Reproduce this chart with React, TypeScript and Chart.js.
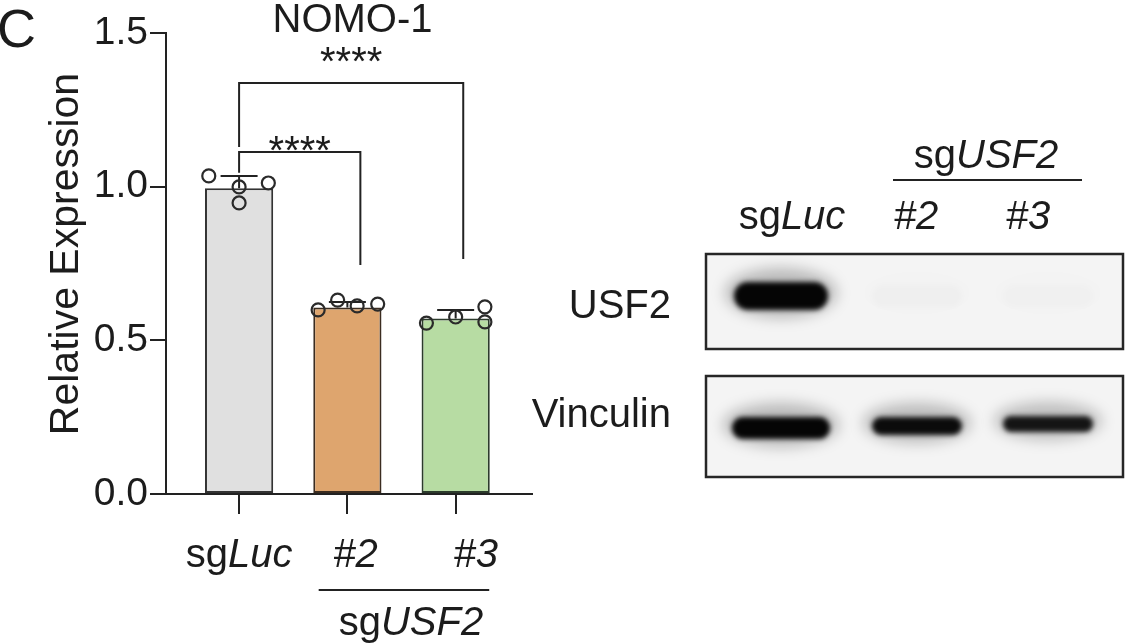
import React, { useEffect, useRef } from 'react';
import { Chart, registerables } from 'chart.js';

Chart.register(...registerables);

// ---------------- data ----------------
const categories = ['sgLuc', 'sgUSF2 #2', 'sgUSF2 #3'];
const categoryX = [0, 1, 2];
const meanValues = [0.995, 0.607, 0.571];
const sdValues = [0.04, 0.018, 0.028];
const repLuc = [1.035, 0.999, 0.947, 1.012];
const repUsf2n2 = [0.599, 0.631, 0.612, 0.618];
const repUsf2n3 = [0.556, 0.576, 0.609, 0.56];
const jitterLuc = [-0.28, 0, 0, 0.27];
const jitterUsf2n2 = [-0.27, -0.09, 0.09, 0.28];
const jitterUsf2n3 = [-0.27, 0, 0.27, 0.27];
const yTickValues = [0, 0.5, 1.0, 1.5];
const xLabelParts: [string, boolean][][] = [
  [['sg', false], ['Luc', true]],
  [['#2', true]],
  [['#3', true]],
];
const groupLabelParts: [string, boolean][] = [['sg', false], ['USF2', true]];
const chartTitle = 'NOMO-1';
const yAxisTitle = 'Relative Expression';
const panelLetter = 'C';

// significance comparisons (x in category units, y in data units)
const compX1 = [0, 0];
const compX2 = [1.12, 2.07];
const compY = [1.113, 1.337];
const compLeftEnd = [1.045, 1.129];
const compRightEnd = [0.745, 0.765];
const compStarTop = [1.168, 1.455];
const compLabels = ['****', '****'];

// western blot
const blotRows = ['USF2', 'Vinculin'];
const blotLaneLabels: [string, boolean][][] = [
  [['sg', false], ['Luc', true]],
  [['#2', true]],
  [['#3', true]],
];
const usf2Signal = [1, 0.015, 0.01];
const vinculinSignal = [1, 0.97, 0.92];

// ---------------- styles / layout ----------------
const FONT = '"Liberation Sans", Arial, Helvetica, sans-serif';
const INK = '#1c1c1c';
const LINE = '#222222';
const barFill = ['#e0e0e0', '#dea56e', '#b7dca3'];
const barEdge = ['#333333', '#3b2c20', '#2c3b2c'];
const xLabelDx = [0, 8, 20];

const blotBox = { left: 706, right: 1123 };
const blotRowBox = [
  { top: 254, bottom: 349 },
  { top: 376, bottom: 477 },
];
const laneCenters = [781, 917, 1048];
const laneLabelCenters = [792, 916, 1028];
const usf2Band = { cy: 296, w: [94, 90, 90], h: [28, 22, 22] };
const vincBand = { cy: [428, 426, 424], w: [98, 90, 90], h: [22, 18, 16] };

function drawRich(
  ctx: CanvasRenderingContext2D,
  parts: [string, boolean][],
  x: number,
  y: number,
  size: number,
  align: 'left' | 'center' | 'right'
) {
  const fontOf = (it: boolean) => `${it ? 'italic ' : ''}${size}px ${FONT}`;
  const widths = parts.map(([t, it]) => {
    ctx.font = fontOf(it);
    return ctx.measureText(t).width;
  });
  const total = widths.reduce((a, b) => a + b, 0);
  let cx = align === 'center' ? x - total / 2 : align === 'right' ? x - total : x;
  ctx.textAlign = 'left';
  ctx.textBaseline = 'alphabetic';
  parts.forEach(([t, it], k) => {
    ctx.font = fontOf(it);
    ctx.fillText(t, cx, y);
    cx += widths[k];
  });
}

function band(
  ctx: CanvasRenderingContext2D,
  cx: number,
  cy: number,
  w: number,
  h: number,
  alpha: number
) {
  ctx.save();
  // halo
  ctx.filter = 'blur(7px)';
  ctx.fillStyle = `rgba(0,0,0,${0.24 * alpha})`;
  ctx.beginPath();
  ctx.ellipse(cx, cy - 3, w / 2 + 9, h / 2 + 11, 0, 0, Math.PI * 2);
  ctx.fill();
  // core
  ctx.filter = 'blur(2.5px)';
  ctx.fillStyle = `rgba(5,5,5,${alpha})`;
  ctx.beginPath();
  (ctx as any).roundRect(cx - w / 2, cy - h / 2, w, h, h / 2);
  ctx.fill();
  ctx.restore();
}

const overlayPlugin = {
  id: 'overlay',
  afterDatasetDraw(chart: any, args: any) {
    if (args.index !== 0) return;
    const ctx: CanvasRenderingContext2D = chart.ctx;
    const xs = chart.scales.x;
    const ys = chart.scales.y;
    ctx.save();
    ctx.strokeStyle = LINE;
    ctx.lineWidth = 2;
    categoryX.forEach((cx, i) => {
      const px = xs.getPixelForValue(cx);
      const yb = ys.getPixelForValue(meanValues[i]);
      const yt = ys.getPixelForValue(meanValues[i] + sdValues[i]);
      ctx.beginPath();
      ctx.moveTo(px, yb);
      ctx.lineTo(px, yt);
      ctx.moveTo(px - 18.5, yt);
      ctx.lineTo(px + 18.5, yt);
      ctx.stroke();
    });
    ctx.restore();
  },
  afterDraw(chart: any) {
    const ctx: CanvasRenderingContext2D = chart.ctx;
    const xs = chart.scales.x;
    const ys = chart.scales.y;
    ctx.save();
    ctx.fillStyle = INK;
    ctx.strokeStyle = LINE;
    ctx.lineWidth = 2;

    // brackets
    compLabels.forEach((lab, k) => {
      const x1 = xs.getPixelForValue(compX1[k]);
      const x2 = xs.getPixelForValue(compX2[k]);
      const y = ys.getPixelForValue(compY[k]);
      ctx.beginPath();
      ctx.moveTo(x1, ys.getPixelForValue(compLeftEnd[k]));
      ctx.lineTo(x1, y);
      ctx.lineTo(x2, y);
      ctx.lineTo(x2, ys.getPixelForValue(compRightEnd[k]));
      ctx.stroke();
      ctx.font = `40px ${FONT}`;
      ctx.textAlign = 'center';
      ctx.textBaseline = 'alphabetic';
      const top = ys.getPixelForValue(compStarTop[k]);
      ctx.fillText(lab, (x1 + x2) / 2, top + 28.6);
    });

    // x labels
    categoryX.forEach((cx, i) => {
      drawRich(ctx, xLabelParts[i], xs.getPixelForValue(cx) + xLabelDx[i], 567, 40, 'center');
    });
    // group underline + label
    const gx1 = xs.getPixelForValue(0.735);
    const gx2 = xs.getPixelForValue(2.31);
    ctx.beginPath();
    ctx.moveTo(gx1, 590);
    ctx.lineTo(gx2, 590);
    ctx.stroke();
    drawRich(ctx, groupLabelParts, (gx1 + gx2) / 2 + 7, 635, 40, 'center');

    // title
    ctx.font = `40px ${FONT}`;
    ctx.textAlign = 'center';
    ctx.textBaseline = 'alphabetic';
    ctx.fillText(chartTitle, 352.5, 32);

    // y title
    ctx.save();
    ctx.translate(78, 254);
    ctx.rotate(-Math.PI / 2);
    ctx.font = `41px ${FONT}`;
    ctx.textAlign = 'center';
    ctx.fillText(yAxisTitle, 0, 0);
    ctx.restore();

    // panel letter
    ctx.font = `54px ${FONT}`;
    ctx.textAlign = 'left';
    ctx.fillText(panelLetter, -3, 47);

    // ---------- western blot ----------
    blotRowBox.forEach((r) => {
      ctx.fillStyle = '#f4f4f4';
      ctx.fillRect(blotBox.left, r.top, blotBox.right - blotBox.left, r.bottom - r.top);
    });
    usf2Signal.forEach((s, i) => {
      band(ctx, laneCenters[i], usf2Band.cy, usf2Band.w[i], usf2Band.h[i], s);
    });
    vinculinSignal.forEach((s, i) => {
      band(ctx, laneCenters[i], vincBand.cy[i], vincBand.w[i], vincBand.h[i], s);
    });
    ctx.strokeStyle = '#262626';
    ctx.lineWidth = 2.5;
    blotRowBox.forEach((r) => {
      ctx.strokeRect(blotBox.left, r.top, blotBox.right - blotBox.left, r.bottom - r.top);
    });

    ctx.fillStyle = INK;
    ctx.font = `40px ${FONT}`;
    ctx.textAlign = 'right';
    ctx.textBaseline = 'alphabetic';
    ctx.fillText(blotRows[0], 671, 318);
    ctx.fillText(blotRows[1], 671, 427);

    blotLaneLabels.forEach((parts, i) => {
      drawRich(ctx, parts, laneLabelCenters[i], 229, 40, 'center');
    });
    ctx.strokeStyle = LINE;
    ctx.lineWidth = 2;
    ctx.beginPath();
    ctx.moveTo(893, 180);
    ctx.lineTo(1082, 180);
    ctx.stroke();
    drawRich(ctx, groupLabelParts, 986, 168, 40, 'center');

    ctx.restore();
  },
};

export default function App() {
  const ref = useRef<HTMLCanvasElement | null>(null);

  useEffect(() => {
    document.body.style.margin = '0';
    const canvas = ref.current;
    if (!canvas) return;

    const points = [
      ...repLuc.map((v, k) => ({ x: categoryX[0] + jitterLuc[k], y: v })),
      ...repUsf2n2.map((v, k) => ({ x: categoryX[1] + jitterUsf2n2[k], y: v })),
      ...repUsf2n3.map((v, k) => ({ x: categoryX[2] + jitterUsf2n3[k], y: v })),
    ];

    const chart = new Chart(canvas, {
      type: 'bar',
      data: {
        labels: categories,
        datasets: [
          {
            type: 'bar',
            label: 'mean',
            order: 2,
            data: categoryX.map((x, i) => ({ x, y: meanValues[i] })) as any,
            backgroundColor: barFill,
            borderColor: barEdge,
            borderWidth: 2,
            borderSkipped: false,
            categoryPercentage: 1,
            barPercentage: 0.63,
          } as any,
          {
            type: 'scatter',
            label: 'replicates',
            order: 1,
            data: points as any,
            pointRadius: 6.5,
            pointBorderWidth: 2.2,
            pointBorderColor: '#2a2a2a',
            pointBackgroundColor: 'rgba(0,0,0,0)',
          } as any,
        ],
      },
      options: {
        responsive: false,
        animation: false,
        devicePixelRatio: 1,
        events: [],
        layout: { padding: { left: 0, top: 33, right: 1125 - 532, bottom: 0 } },
        plugins: {
          legend: { display: false },
          tooltip: { enabled: false },
          title: { display: false },
        },
        scales: {
          x: {
            type: 'linear',
            min: -0.675,
            max: 2.705,
            offset: false,
            afterBuildTicks: (s: any) => {
              s.ticks = categoryX.map((v) => ({ value: v }));
            },
            afterFit: (s: any) => {
              s.height = 150;
            },
            ticks: { display: false },
            grid: {
              offset: false,
              drawOnChartArea: false,
              drawTicks: true,
              tickLength: 20,
              color: LINE,
              lineWidth: 2,
            },
            border: { display: true, color: LINE, width: 2 },
          } as any,
          y: {
            type: 'linear',
            min: 0,
            max: 1.5,
            afterBuildTicks: (s: any) => {
              s.ticks = yTickValues.map((v) => ({ value: v }));
            },
            afterFit: (s: any) => {
              s.width = 166;
            },
            ticks: {
              color: INK,
              font: { family: FONT, size: 39 },
              padding: 2,
              callback: (v: any) => Number(v).toFixed(1),
            },
            grid: {
              drawOnChartArea: false,
              drawTicks: true,
              tickLength: 16,
              color: LINE,
              lineWidth: 2,
            },
            border: { display: true, color: LINE, width: 2 },
          } as any,
        },
      },
      plugins: [overlayPlugin],
    });

    return () => chart.destroy();
  }, []);

  return (
    <div style={{ width: 1125, height: 644, background: '#fff' }}>
      <canvas ref={ref} width={1125} height={644} style={{ display: 'block' }} />
    </div>
  );
}
